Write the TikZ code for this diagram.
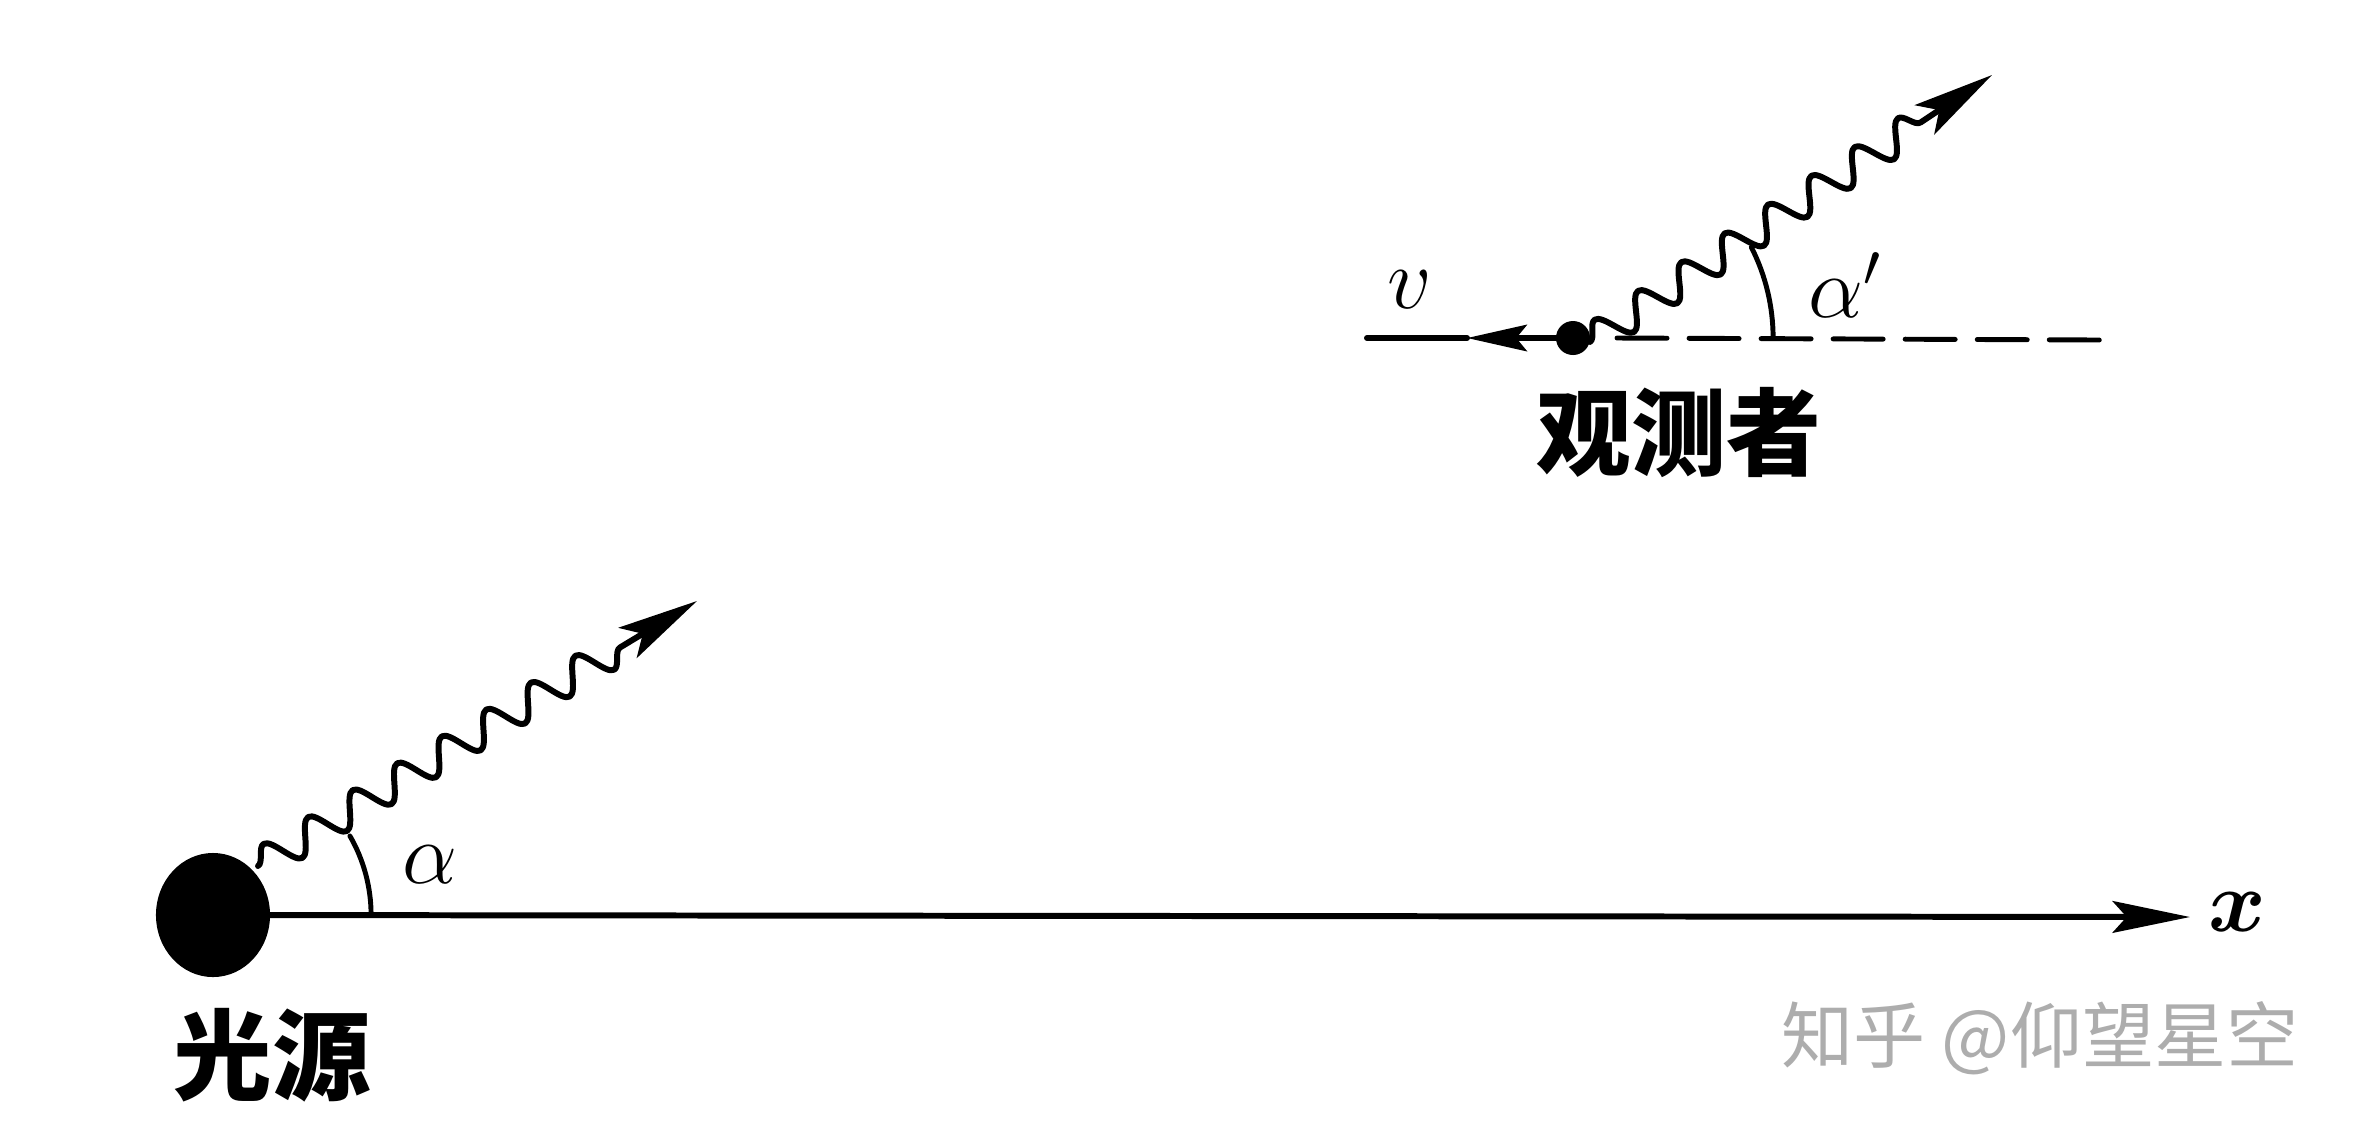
\documentclass[tikz,border=0pt]{standalone}
\usepackage{amsmath}
\usepackage{bm}
\usepackage{fontspec}
\newfontfamily\cjk{Noto Sans CJK SC}
\usetikzlibrary{arrows.meta,decorations.pathmorphing,shapes.geometric}
\definecolor{wmgray}{HTML}{ADADAD}
\begin{document}
\begin{tikzpicture}[x=0.01cm,y=-0.01cm, line cap=round, line join=round,
  axisline/.style={line width=1.7pt},
  photon/.style={line width=1.7pt, decorate,
    decoration={snake, segment length=0.52cm, amplitude=0.16cm, post length=0.72cm},
    -{Stealth[length=23pt,width=10pt,inset=5pt]}},
  anglearc/.style={line width=1.4pt},
  cjklabel/.style={inner sep=0pt, font=\cjk\bfseries\fontsize{27}{30}\selectfont},
  mathlabel/.style={inner sep=0pt, font=\fontsize{26}{30}\selectfont},
  wmark/.style={inner sep=0pt, text=wmgray, font=\cjk\fontsize{20.5}{24}\selectfont}]
\useasboundingbox (0,0) rectangle (2353,1132);

% light source
\node[ellipse, fill=black, minimum width=1.14cm, minimum height=1.24cm, inner sep=0pt] (src) at (213,915) {};
\coordinate (xtip) at (2190,917);
\draw[axisline, -{Stealth[length=22pt,width=9pt,inset=4pt]}] (src.center) -- (xtip);
\node[mathlabel] (xlab) at (2237,912) {$\bm{x}$};
\coordinate (srcw) at (258,866);
\coordinate (srctip) at (697,601);
\draw[photon] (srcw) -- (srctip);
\draw[anglearc] ([shift={(0:1.58cm)}]src.center) arc[start angle=0, end angle=30, radius=1.58cm];
\node[mathlabel, font=\fontsize{29}{32}\selectfont] (alab) at (430,865) {$\alpha$};
\node[cjklabel, font=\cjk\bfseries\fontsize{28}{32}\selectfont] (srclab) at (272,1055) {光源};

% observer
\node[circle, fill=black, minimum size=0.34cm, inner sep=0pt] (obs) at (1573,338) {};
\coordinate (vtip) at (1467,338);
\coordinate (vend) at (1367,338);
\draw[axisline, -{Stealth[length=17pt,width=7.5pt,inset=3pt]}] (obs.center) -- (vtip);
\draw[axisline] (vtip) -- (vend);
\node[mathlabel] (vlab) at (1410,290) {$v$};
\coordinate (dstart) at (1617,338);
\coordinate (dend) at (2100,340);
\draw[line width=1.4pt, dash pattern=on 0.5cm off 0.22cm] (dstart) -- (dend);
\coordinate (obsw) at (1590,342);
\coordinate (obstip) at (1992,75);
\draw[photon] (obsw) -- (obstip);
\draw[anglearc] ([shift={(0:2.0cm)}]obs.center) arc[start angle=0, end angle=27, radius=2.0cm];
\node[mathlabel] (aplab) at (1845,285) {$\alpha'$};
\node[cjklabel] (obslab) at (1679,432) {观测者};

% watermark
\node[wmark] (wm) at (2040,1038) {知乎 @仰望星空};
\end{tikzpicture}
\end{document}
